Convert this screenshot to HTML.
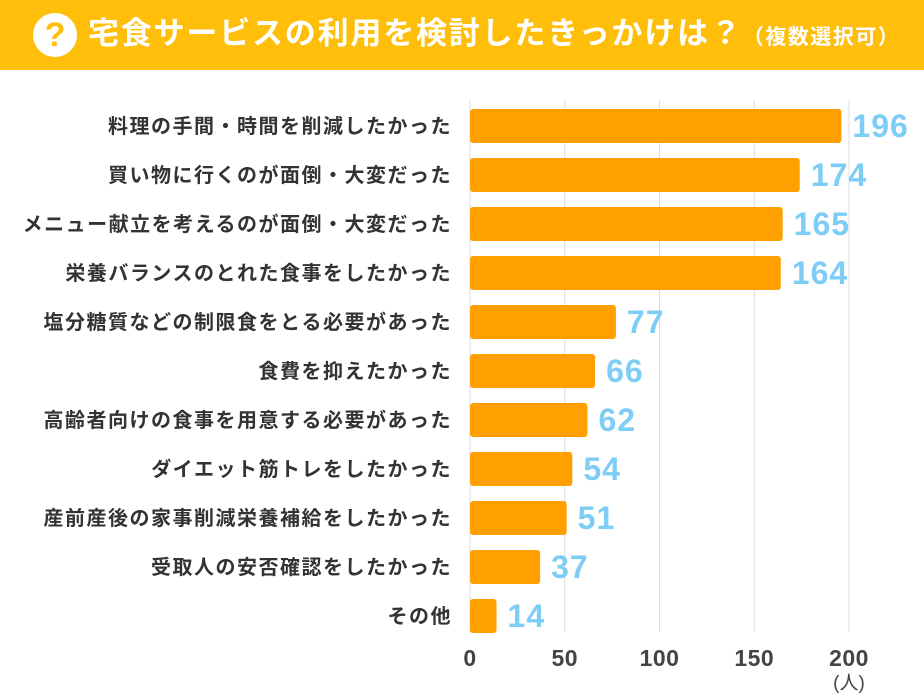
<!DOCTYPE html>
<html><head><meta charset="utf-8"><style>
body{margin:0;width:924px;height:700px;background:#fff;overflow:hidden;font-family:"Liberation Sans","Noto Sans CJK JP",sans-serif;}
#hdr{position:absolute;left:0;top:0;width:924px;height:70px;background:#FFBE0A;}
#q{position:absolute;left:33px;top:13px;width:44px;height:44px;border-radius:50%;background:#fff;color:#FFBE0A;font-weight:bold;font-size:34px;line-height:44px;text-align:center;}
#title{position:absolute;left:88px;top:13px;color:#fff;font-weight:bold;font-size:31px;letter-spacing:1.8px;white-space:nowrap;line-height:42px;}
#title small{font-size:21px;letter-spacing:1.5px;}
</style></head><body>
<div id="hdr">
<div id="q">?</div>
<div id="title">宅食サービスの利用を検討したきっかけは？<small>（複数選択可）</small></div>
</div>
<svg id="chart" width="924" height="700" style="position:absolute;left:0;top:0"></svg>
<script>
const categories=["料理の手間・時間を削減したかった","買い物に行くのが面倒・大変だった","メニュー献立を考えるのが面倒・大変だった","栄養バランスのとれた食事をしたかった","塩分糖質などの制限食をとる必要があった","食費を抑えたかった","高齢者向けの食事を用意する必要があった","ダイエット筋トレをしたかった","産前産後の家事削減栄養補給をしたかった","受取人の安否確認をしたかった","その他"];
const values=[196,174,165,164,77,66,62,54,51,37,14];
const ticks=[0,50,100,150,200];
const svg=document.getElementById('chart');
const NS='http://www.w3.org/2000/svg';
const x0=470,pxPer=1.895,top0=109,step=49,bh=34;
const X=v=>x0+v*pxPer;
const Y=i=>top0+i*step;
function mk(t,a){const e=document.createElementNS(NS,t);for(const k in a)e.setAttribute(k,a[k]);svg.appendChild(e);return e;}
ticks.forEach((t,i)=>{
 if(i>0){const g=mk('line',{x1:X(t),x2:X(t),y1:100,y2:632,stroke:'#dcdcdc','stroke-width':1});
 
 }
 const tl=mk('text',{x:X(t),y:666,'text-anchor':'middle','font-size':23,fill:'#444','font-weight':'bold','letter-spacing':0.5});
 tl.textContent=t;
 
 
});
const ax=mk('line',{x1:x0,x2:x0,y1:100,y2:632,stroke:'#dcdcdc','stroke-width':1});


const unit=mk('text',{x:X(200),y:689,'text-anchor':'middle','font-size':19,fill:'#444'});
unit.textContent='(人)';


categories.forEach((c,i)=>{
 const y=Y(i);
 const r=mk('rect',{x:x0,y:y,width:values[i]*pxPer,height:bh,rx:3,fill:'#FF9F00'});
 
 
 const l=mk('text',{x:452,y:y+bh/2+7,'text-anchor':'end','font-size':20,fill:'#333','font-weight':'bold','letter-spacing':1.5});
 l.textContent=c;
 
 
 const v=mk('text',{x:X(values[i])+11,y:y+bh/2+11,'font-size':32,fill:'#7ECDF7','font-weight':'bold','letter-spacing':1});
 v.textContent=values[i];
 
 
});
</script>
</body></html>
